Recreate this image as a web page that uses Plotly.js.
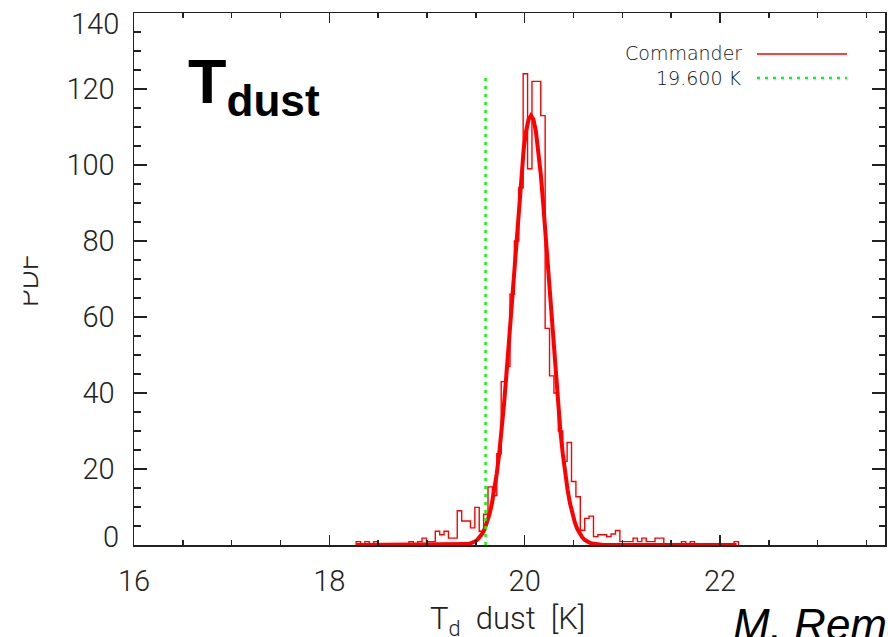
<!DOCTYPE html>
<html>
<head>
<meta charset="utf-8">
<script src="https://cdn.plot.ly/plotly-3.0.1.min.js"></script>
<style>
  html, body { margin: 0; padding: 0; background: #ffffff; }
  #chart { width: 888px; height: 637px; }
</style>
</head>
<body>
<div id="chart"></div>
<script>
// ---------------- data ----------------
// Histogram of T_dust samples (Commander), thin step line
const binLow = 18.275;     // left edge of first bin [K]
const binWidth = 0.045;    // bin width [K]
const pdfCounts = [
  0.9, 0, 0.9, 0, 0.9, 0, 0, 0, 0, 0,
  0, 0, 0.9, 0, 0.9, 1.8, 0.9, 0.9, 3.6, 2.7,
  3.6, 1.8, 1.8, 9.0, 6.3, 6.3, 4.5, 9.9, 3.6, 8.1,
  15.3, 13.0, 24.0, 43.0, 47.0, 66.0, 80.0, 94.0, 124.0, 99.0,
  122.0, 122.0, 113.0, 57.0, 44.5, 40.0, 30.0, 22.0, 27.0, 16.7,
  12.7, 3.9, 7.0, 7.6, 2.2, 2.7, 2.7, 2.2, 2.9, 3.8,
  0.9, 0.9, 0.9, 1.8, 0.9, 1.8, 0.9, 0.9, 1.8, 1.8,
  0, 0, 0, 0, 0.9, 0, 0.9, 0, 0, 0,
  0, 0, 0, 0, 0, 0, 0.9
];

// Smooth fitted PDF, thick line
const fitT = [
  18.28, 19.29,
  19.315, 19.34, 19.365, 19.39, 19.415, 19.44, 19.465, 19.49, 19.515, 19.54,
  19.565, 19.59, 19.615, 19.64, 19.665, 19.69, 19.715, 19.74, 19.765, 19.79,
  19.815, 19.84, 19.865, 19.89, 19.915, 19.94, 19.965, 19.99, 20.015, 20.04,
  20.065,
  20.09, 20.115, 20.14, 20.165, 20.19, 20.215, 20.24, 20.265, 20.29, 20.315,
  20.34, 20.365, 20.39, 20.415, 20.44, 20.465, 20.49, 20.515, 20.54, 20.565,
  20.59, 20.615, 20.64, 20.665, 20.69, 20.715, 20.74, 20.765, 20.79, 20.815,
  20.84, 22.17
];
const fitPdf = [
  0, 0,
  0.03, 0.05, 0.09, 0.15, 0.24, 0.38, 0.59, 0.90, 1.36, 2.01,
  2.93, 4.18, 5.86, 8.07, 10.91, 14.48, 18.87, 24.15, 30.34, 37.43,
  45.35, 53.93, 62.99, 72.24, 81.34, 89.94, 97.64, 104.08, 108.95, 111.97,
  113.0,
  111.97, 108.95, 104.08, 97.64, 89.94, 81.34, 72.24, 62.99, 53.93, 45.35,
  37.43, 30.34, 24.15, 18.87, 14.48, 10.91, 8.07, 5.86, 4.18, 2.93,
  2.01, 1.36, 0.90, 0.59, 0.38, 0.24, 0.15, 0.09, 0.05, 0.03,
  0, 0
];

// Reference temperature marker
const refTemp = 19.6;
const legendLabels = ["Commander", "19.600 K"];
const xTickVals = [16, 18, 20, 22];
const yTickVals = [0, 20, 40, 60, 80, 100, 120, 140];

// ---------------- build traces ----------------
const histX = [binLow];
const histY = [0];
for (let k = 0; k < pdfCounts.length; k++) {
  histX.push(binLow + k * binWidth);
  histY.push(pdfCounts[k]);
}
const lastEdge = binLow + pdfCounts.length * binWidth;
histX.push(lastEdge); histY.push(pdfCounts[pdfCounts.length - 1]);
histX.push(lastEdge); histY.push(0);

const histMax = Math.max.apply(null, pdfCounts);

const traces = [
  { x: histX, y: histY, type: 'scatter', mode: 'lines',
    line: { shape: 'hv', color: '#ff0000', width: 1.4 }, hoverinfo: 'skip' },
  { x: fitT, y: fitPdf, type: 'scatter', mode: 'lines',
    line: { color: '#ff0000', width: 4 }, hoverinfo: 'skip' },
  { x: [refTemp, refTemp], y: [0, histMax], type: 'scatter', mode: 'lines',
    line: { color: '#00ff00', width: 2.5, dash: '3px,5px' }, hoverinfo: 'skip' }
];

// ---------------- layout helpers (pixel -> paper) ----------------
const PL = 134, PR = 885, PT = 13, PB = 545;
const px = v => (v - PL) / (PR - PL);
const py = v => (PB - v) / (PB - PT);

const axisColor = '#222222';
const tickFont = { family: 'Roboto, "Liberation Sans", sans-serif', size: 29, color: '#222222', weight: 300 };
const titleFont = { family: 'Roboto, "Liberation Sans", sans-serif', size: 31, color: '#222222', weight: 300 };
const legFont = { family: '"DejaVu Sans", sans-serif', size: 19, color: '#111111', weight: 200 };

const layout = {
  width: 888, height: 637,
  margin: { l: PL, r: 888 - PR, t: PT, b: 637 - PB, pad: 0 },
  paper_bgcolor: '#ffffff', plot_bgcolor: '#ffffff',
  showlegend: false,
  xaxis: {
    range: [16, 23.69], tickmode: 'array', tickvals: xTickVals,
    ticks: 'inside', ticklen: 10, tickwidth: 1.5, tickcolor: axisColor,
    showline: true, linecolor: axisColor, linewidth: 1.5, mirror: 'ticks',
    showgrid: false, zeroline: false, tickfont: tickFont,
    ticklabelstandoff: 10,
    minor: { dtick: 0.5, tick0: 16, ticks: 'inside', ticklen: 5, tickwidth: 1.5, tickcolor: axisColor, showgrid: false }
  },
  yaxis: {
    range: [0, 140], tickmode: 'array', tickvals: yTickVals,
    ticktext: yTickVals.map(v => (v === 0 || v === 140) ? '' : String(v)),
    ticks: 'inside', ticklen: 13, tickwidth: 1.5, tickcolor: axisColor,
    showline: true, linecolor: axisColor, linewidth: 1.5, mirror: 'ticks',
    showgrid: false, zeroline: false, tickfont: tickFont,
    ticklabelstandoff: 12,
    minor: { dtick: 5, tick0: 0, ticks: 'inside', ticklen: 6.5, tickwidth: 1.5, tickcolor: axisColor, showgrid: false }
  },
  shapes: [
    { type: 'line', xref: 'paper', yref: 'paper', x0: px(757), x1: px(847), y0: py(54), y1: py(54),
      line: { color: '#ff0000', width: 1.5 } },
    { type: 'line', xref: 'paper', yref: 'paper', x0: px(757), x1: px(847), y0: py(78), y1: py(78),
      line: { color: '#00ff00', width: 2.5, dash: '3px,5px' } }
  ],
  annotations: [
    { text: '<b>T<sub>dust</sub></b>', xref: 'paper', yref: 'paper', x: px(186), y: py(85),
      xanchor: 'left', yanchor: 'middle', showarrow: false,
      font: { family: '"Liberation Sans", Arial, sans-serif', size: 63, color: '#000000' } },
    { text: legendLabels[0], xref: 'paper', yref: 'paper', x: px(744), y: py(53),
      xanchor: 'right', yanchor: 'middle', showarrow: false, font: legFont },
    { text: legendLabels[1], xref: 'paper', yref: 'paper', x: px(744), y: py(78),
      xanchor: 'right', yanchor: 'middle', showarrow: false, font: legFont },
    { text: '0', xref: 'paper', yref: 'paper', x: px(121), y: py(537),
      xanchor: 'right', yanchor: 'middle', showarrow: false, font: tickFont },
    { text: '140', xref: 'paper', yref: 'paper', x: px(121), y: py(24),
      xanchor: 'right', yanchor: 'middle', showarrow: false, font: tickFont },
    { text: 'T<sub>d</sub>&nbsp; dust&nbsp; [K]', xref: 'paper', yref: 'paper', x: px(507), y: py(620),
      xanchor: 'center', yanchor: 'middle', showarrow: false, font: titleFont },
    { text: 'PDF', xref: 'paper', yref: 'paper', x: px(28), y: py(281), textangle: -90,
      xanchor: 'center', yanchor: 'middle', showarrow: false, font: tickFont },
    { text: ' ', xref: 'paper', yref: 'paper', x: px(-2), y: py(281), width: 24, height: 110,
      xanchor: 'left', yanchor: 'middle', showarrow: false, bgcolor: '#ffffff', borderpad: 0,
      font: { size: 10 } },
    { text: '<i>M. Remazeilles</i>', xref: 'paper', yref: 'paper', x: px(731), y: py(624),
      xanchor: 'left', yanchor: 'middle', showarrow: false,
      font: { family: '"Liberation Sans", Arial, sans-serif', size: 44, color: '#000000' } }
  ]
};

Plotly.newPlot('chart', traces, layout, { staticPlot: true, displayModeBar: false });
</script>
</body>
</html>
